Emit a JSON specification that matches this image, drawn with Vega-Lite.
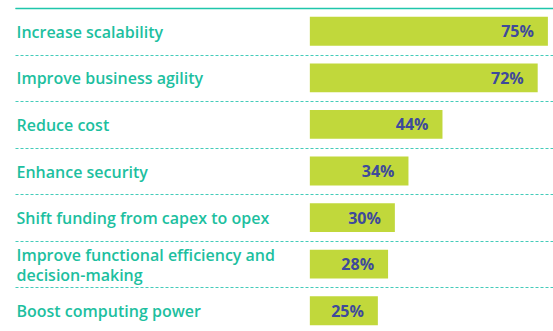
{
  "$schema": "https://vega.github.io/schema/vega-lite/v6.json",
  "width": 538,
  "height": 326,
  "autosize": {"type": "none"},
  "padding": {"left": 15, "top": 8, "right": 0, "bottom": 0},
  "background": "white",
  "config": {"view": {"stroke": null}},
  "data": {
    "values": [
      {"label": "Increase scalability", "value": 75, "pct": "75%"},
      {"label": "Improve business agility", "value": 72, "pct": "72%"},
      {"label": "Reduce cost", "value": 44, "pct": "44%"},
      {"label": "Enhance security", "value": 34, "pct": "34%"},
      {"label": "Shift funding from capex to opex", "value": 30, "pct": "30%"},
      {"label": "Improve functional efficiency and decision-making", "value": 28, "pct": "28%"},
      {"label": "Boost computing power", "value": 25, "pct": "25%"}
    ]
  },
  "encoding": {
    "y": {
      "field": "label",
      "type": "nominal",
      "sort": null,
      "scale": {"paddingInner": 0, "paddingOuter": 0},
      "axis": {
        "title": null,
        "orient": "left",
        "domain": false,
        "ticks": false,
        "tickSize": 0,
        "tickBand": "extent",
        "labelAlign": "left",
        "labelPadding": -1,
        "labelBaseline": "middle",
        "labelOffset": {"condition": {"test": "datum.value == 'Improve functional efficiency and decision-making'", "value": -9}, "value": 1},
        "labelLimit": 400,
        "labelFont": "Open Sans",
        "labelFontSize": 16,
        "labelFontWeight": 600,
        "labelColor": "#1dbf9f",
        "labelLineHeight": 20,
        "labelExpr": "datum.label == 'Improve functional efficiency and decision-making' ? ['Improve functional efficiency and', 'decision-making'] : datum.label",
        "grid": true,
        "gridColor": "#44ccba",
        "gridDash": [3, 2],
        "gridWidth": 1.1
      }
    }
  },
  "layer": [
    {
      "mark": {"type": "bar", "color": "#c1d83b", "height": {"band": 0.62}},
      "encoding": {
        "x": {
          "field": "value",
          "type": "quantitative",
          "scale": {"domain": [-81.7, 76.5], "zero": false, "nice": false},
          "axis": {
            "orient": "top",
            "title": null,
            "labels": false,
            "ticks": false,
            "grid": false,
            "domain": true,
            "domainColor": "#1fc6ab",
            "domainWidth": 1.6,
            "zindex": 1
          }
        },
        "x2": {"datum": 5}
      }
    },
    {
      "mark": {
        "type": "text",
        "align": "right",
        "baseline": "middle",
        "dx": -14,
        "dy": 1,
        "font": "Open Sans",
        "fontSize": 16,
        "fontWeight": "bold",
        "color": "#3e4a9b"
      },
      "encoding": {
        "x": {"field": "value", "type": "quantitative"},
        "text": {"field": "pct", "type": "nominal"}
      }
    }
  ]
}
